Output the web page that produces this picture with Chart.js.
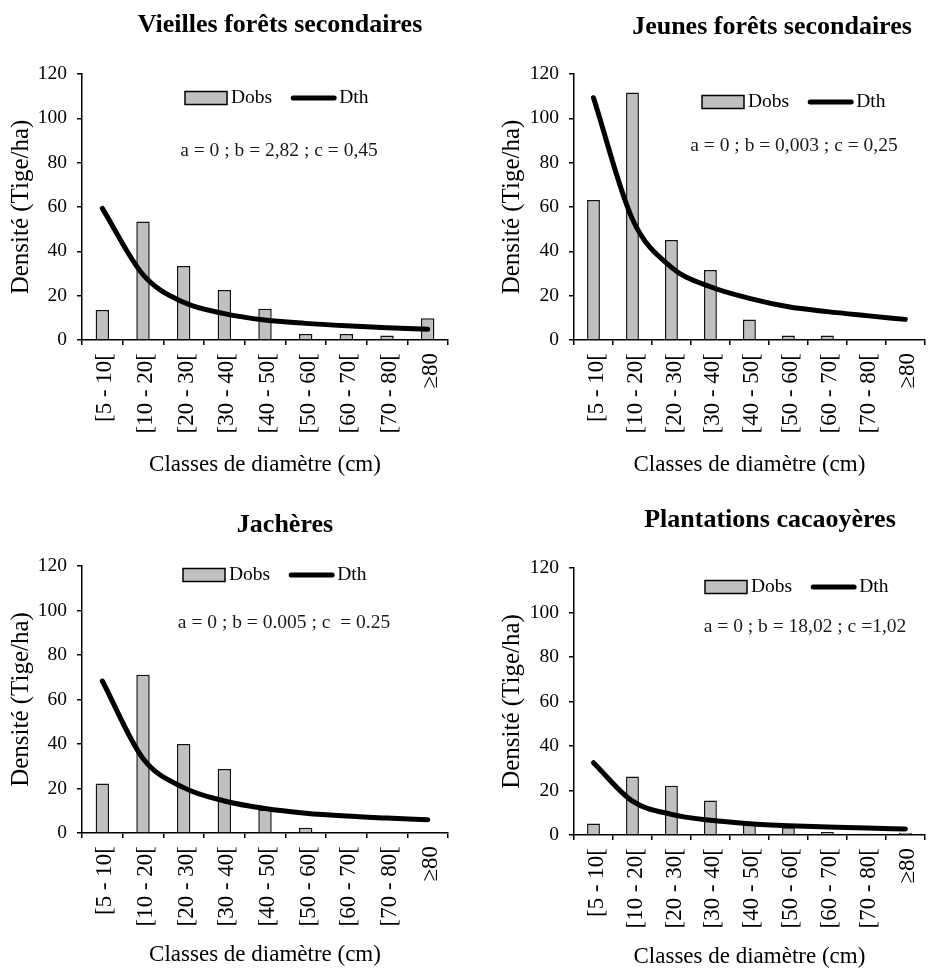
<!DOCTYPE html>
<html>
<head>
<meta charset="utf-8">
<script src="https://cdn.jsdelivr.net/npm/chart.js@4.4.1/dist/chart.umd.min.js"></script>
<style>
  body { margin: 0; background: #fff; width: 941px; height: 971px; position: relative; overflow: hidden; }
  canvas { position: absolute; }
</style>
</head>
<body>
<canvas id="vieilles" width="470" height="485" style="left:0;top:0"></canvas>
<canvas id="jeunes" width="471" height="485" style="left:470px;top:0"></canvas>
<canvas id="jacheres" width="470" height="486" style="left:0;top:485px"></canvas>
<canvas id="plantations" width="471" height="486" style="left:470px;top:485px"></canvas>
<script>
// Classes de diamètre (axe des x)
const classes = ['[5 - 10[', '[10 - 20[', '[20 - 30[', '[30 - 40[', '[40 - 50[', '[50 - 60[', '[60 - 70[', '[70 - 80[', '≥80'];
const densiteTicks = [0, 20, 40, 60, 80, 100, 120];

// Densités observées (Dobs) et théoriques (Dth), tiges/ha
const vieillesDobs = [13.5, 53.5, 33.4, 22.6, 14.1, 2.7, 2.7, 2.0, 9.8];
const vieillesDth = [59.4, 29.5, 17.0, 11.9, 9.0, 7.5, 6.4, 5.5, 4.8];
const jeunesDobs = [63.2, 111.6, 45.1, 31.6, 9.3, 2.0, 2.0, 0, 0];
const jeunesDth = [109.3, 54.5, 32.8, 24.0, 18.8, 15.0, 12.8, 11.0, 9.3];
const jacheresDobs = [22.2, 71.1, 40.0, 28.8, 10.5, 2.4, 0, 0, 0];
const jacheresDth = [68.3, 33.5, 20.4, 14.4, 11.0, 8.9, 7.6, 6.7, 5.9];
const plantationsDobs = [5.2, 26.3, 22.1, 15.5, 5.8, 3.5, 1.3, 0.6, 1.0];
const plantationsDth = [32.5, 15.2, 9.3, 6.6, 5.1, 4.2, 3.6, 3.1, 2.7];

const SERIF = "'Liberation Serif', 'Times New Roman', serif";

// Titre, légende et paramètres dessinés par-dessus la zone du graphique
const decorPlugin = {
    id: 'decor',
    afterDraw(chart, args, opts) {
        const ctx = chart.ctx;
        const area = chart.chartArea;
        const sets = chart.data.datasets;
        ctx.save();
        ctx.fillStyle = '#000';
        ctx.textBaseline = 'middle';

        // titre
        ctx.font = 'bold 26px ' + SERIF;
        ctx.textAlign = 'center';
        ctx.fillText(opts.title, opts.titleX, opts.titleY);

        // légende
        let x = area.left + opts.legendX;
        const y = area.top + opts.legendY;
        ctx.font = '19.5px ' + SERIF;
        ctx.textAlign = 'left';
        ctx.fillStyle = '#c0c0c0';
        ctx.fillRect(x, y - 6.5, 42, 13);
        ctx.strokeStyle = '#000';
        ctx.lineWidth = 1.5;
        ctx.strokeRect(x, y - 6.5, 42, 13);
        x += 46;
        ctx.fillStyle = '#000';
        ctx.fillText(sets[1].label, x, y);
        x += ctx.measureText(sets[1].label).width + 21;
        ctx.lineWidth = 5;
        ctx.lineCap = 'round';
        ctx.beginPath();
        ctx.moveTo(x, y);
        ctx.lineTo(x + 41, y);
        ctx.stroke();
        x += 46;
        ctx.fillText(sets[0].label, x, y);

        // paramètres de l'ajustement
        ctx.fillStyle = '#1a1a1a';
        ctx.textAlign = 'center';
        ctx.fillText(opts.note, area.left + opts.noteX, area.top + opts.noteY);
        ctx.restore();
    }
};

function makeChart(id, dobs, dth, g) {
    const canvas = document.getElementById(id);
    new Chart(canvas, {
        type: 'bar',
        data: {
            labels: classes,
            datasets: [{
                type: 'line',
                label: 'Dth',
                data: dth,
                borderColor: '#000',
                borderWidth: 5,
                borderCapStyle: 'round',
                cubicInterpolationMode: 'monotone',
                pointRadius: 0,
                fill: false,
                order: 0
            }, {
                type: 'bar',
                label: 'Dobs',
                data: dobs,
                backgroundColor: '#c0c0c0',
                borderColor: '#111',
                borderWidth: 1.5,
                barPercentage: 0.33,
                categoryPercentage: 1,
                order: 1
            }]
        },
        options: {
            responsive: false,
            animation: false,
            layout: {
                padding: { top: g.top, right: canvas.width - g.right, bottom: 0, left: 0 }
            },
            scales: {
                x: {
                    afterFit: (s) => { s.height = canvas.height - g.bottom; },
                    border: { color: '#000', width: 1.5 },
                    grid: { drawOnChartArea: false, color: '#000', tickLength: 5, lineWidth: 1.5 },
                    ticks: {
                        autoSkip: false, minRotation: 90, maxRotation: 90, padding: 8, labelOffset: 3,
                        color: '#000', font: { family: SERIF, size: 23 }
                    },
                    title: {
                        display: true, text: 'Classes de diamètre (cm)', color: '#000',
                        font: { family: SERIF, size: 23 }, padding: { top: 0, bottom: g.xTitlePad }
                    }
                },
                y: {
                    min: 0,
                    max: 120,
                    afterFit: (s) => { s.width = g.left; },
                    afterBuildTicks: (s) => { s.ticks = densiteTicks.map(v => ({ value: v })); },
                    border: { color: '#000', width: 1.5 },
                    grid: { drawOnChartArea: false, color: '#000', tickLength: 5, lineWidth: 1.5 },
                    ticks: { padding: 10, color: '#000', font: { family: SERIF, size: 19.5 } },
                    title: {
                        display: true, text: 'Densité (Tige/ha)', color: '#000',
                        font: { family: SERIF, size: 25 }, padding: { top: g.yTitlePad, bottom: 0 }
                    }
                }
            },
            plugins: {
                legend: { display: false },
                tooltip: { enabled: false },
                decor: g.decor
            }
        },
        plugins: [decorPlugin]
    });
}

makeChart('vieilles', vieillesDobs, vieillesDth, {
    left: 82, top: 74, right: 448, bottom: 340, xTitlePad: 6, yTitlePad: 6,
    decor: { title: 'Vieilles forêts secondaires', titleX: 280, titleY: 25,
             legendX: 103, legendY: 24, note: 'a = 0 ; b = 2,82 ; c = 0,45', noteX: 197, noteY: 77 }
});
makeChart('jeunes', jeunesDobs, jeunesDth, {
    left: 104, top: 74, right: 470, bottom: 340, xTitlePad: 6, yTitlePad: 27,
    decor: { title: 'Jeunes forêts secondaires', titleX: 302, titleY: 27,
             legendX: 128, legendY: 28, note: 'a = 0 ; b = 0,003 ; c = 0,25', noteX: 220, noteY: 72 }
});
makeChart('jacheres', jacheresDobs, jacheresDth, {
    left: 82, top: 81, right: 448, bottom: 348, xTitlePad: 2, yTitlePad: 6,
    decor: { title: 'Jachères', titleX: 285, titleY: 40,
             legendX: 101, legendY: 9, note: 'a = 0 ; b = 0.005 ; c  = 0.25', noteX: 202, noteY: 57 }
});
makeChart('plantations', plantationsDobs, plantationsDth, {
    left: 104, top: 83, right: 470, bottom: 350, xTitlePad: 0, yTitlePad: 27,
    decor: { title: 'Plantations cacaoyères', titleX: 300, titleY: 35,
             legendX: 131, legendY: 19, note: 'a = 0 ; b = 18,02 ; c =1,02', noteX: 231, noteY: 59 }
});
</script>
</body>
</html>
